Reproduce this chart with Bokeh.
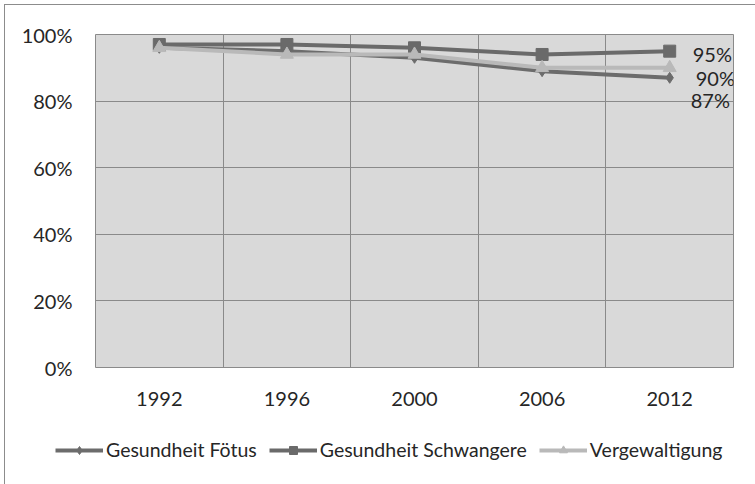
from bokeh.plotting import figure
from bokeh.layouts import column
from bokeh.models import (Range1d, FixedTicker, PrintfTickFormatter, Legend, LegendItem, Grid, ColumnDataSource)
from bokeh.core.properties import value
from bokeh.embed import file_html
from bokeh.resources import INLINE

# ---- data ----
years = ["1992", "1996", "2000", "2006", "2012"]
foetus = [96, 95, 93, 89, 87]
schwangere = [97, 97, 96, 94, 95]
vergewaltigung = [96, 94, 94, 90, 90]
series_names = ["Gesundheit Fötus", "Gesundheit Schwangere", "Vergewaltigung"]
y_ticks = [0, 20, 40, 60, 80, 100]

# ---- style ----
FONT = "Lato"
TXT = "#262626"
GRID = "#8a8a8a"
BG = "#d9d9d9"
colors = ["#6c6c6c", "#6a6a6a", "#b9b9b9"]
markers = ["diamond", "square", "triangle"]
msizes = [11, 12, 13]
label_dx = [21, 23, 26]
label_dy = [22, 3, 10]

xs = list(range(len(years)))
all_series = [foetus, schwangere, vergewaltigung]
sources = [ColumnDataSource(dict(x=xs, y=vals)) for vals in all_series]

p = figure(frame_width=638, frame_height=333, output_backend="svg", toolbar_location=None,
           x_range=Range1d(-0.5, len(years) - 0.5), y_range=Range1d(0, 100),
           min_border_left=90, min_border_right=22, min_border_top=29, min_border_bottom=60)
p.background_fill_color = BG
p.border_fill_color = "white"
p.outline_line_color = GRID
p.outline_line_width = 1

p.xaxis.ticker = FixedTicker(ticks=xs)
p.xaxis.major_label_overrides = {i: y for i, y in enumerate(years)}
p.yaxis.ticker = FixedTicker(ticks=y_ticks)
p.yaxis.formatter = PrintfTickFormatter(format="%d%%")
for ax in (p.xaxis[0], p.yaxis[0]):
    ax.axis_line_color = None
    ax.major_tick_line_color = None
    ax.minor_tick_line_color = None
    ax.major_label_text_font = FONT
    ax.major_label_text_font_size = "20px"
    ax.major_label_text_color = TXT
p.xaxis.major_label_standoff = 18
p.yaxis.major_label_standoff = 17

p.xgrid.visible = False
vgrid = Grid(dimension=0, ticker=FixedTicker(ticks=[i - 0.5 for i in range(len(years) + 1)]),
             grid_line_color=GRID, grid_line_width=1)
p.add_layout(vgrid)
p.ygrid.grid_line_color = GRID
p.ygrid.grid_line_width = 1

for src, c, m, s in zip(sources, colors, markers, msizes):
    p.line("x", "y", source=src, line_color=c, line_width=4)
    p.scatter("x", "y", source=src, marker=m, size=s, fill_color=c, line_color=c)

# end labels
last_vals = [v[-1] for v in all_series]
lab_src = ColumnDataSource(dict(
    x=[xs[-1]] * len(last_vals), y=last_vals,
    t=[f"{v}%" for v in last_vals], dx=label_dx, dy=label_dy))
p.text("x", "y", text="t", source=lab_src, x_offset="dx", y_offset="dy",
       text_font=value(FONT), text_font_size="20px", text_color=TXT,
       text_baseline="middle", text_align="left")

# ---- legend strip (separate figure below the chart) ----
lg = figure(width=750, height=57, output_backend="svg", toolbar_location=None,
            x_axis_type=None, y_axis_type=None, min_border=0,
            x_range=Range1d(-20, -10), y_range=Range1d(-20, -10))
lg.outline_line_color = None
lg.xgrid.visible = False
lg.ygrid.visible = False

unaligned = True
try:
    lg.frame_align = False
    p.frame_align = False
except Exception:
    unaligned = False

items = []
for name, src, c, m, s in zip(series_names, sources, colors, markers, msizes):
    r1 = lg.line("x", "y", source=src, line_color=c, line_width=4)
    r2 = lg.scatter("x", "y", source=src, marker=m, size=s, fill_color=c, line_color=c)
    items.append(LegendItem(label=name, renderers=[r1, r2]))

if unaligned:
    loc, gw = (50, 23), 48
else:
    loc, gw = (0, 23), 36

legend = Legend(items=items, orientation="horizontal", location=loc,
                glyph_width=gw, glyph_height=20, label_standoff=3, spacing=12,
                padding=0, margin=0, border_line_color=None, background_fill_alpha=0,
                label_text_font=FONT, label_text_font_size="19.5px", label_text_color=TXT)
lg.add_layout(legend)

layout = column(p, lg, spacing=0)
layout.styles = {"margin-left": "4px", "margin-top": "4px",
                 "border-left": "1px solid #8c8c8c", "border-top": "1px solid #8c8c8c"}

open("out.html", "w").write(file_html(layout, INLINE))
